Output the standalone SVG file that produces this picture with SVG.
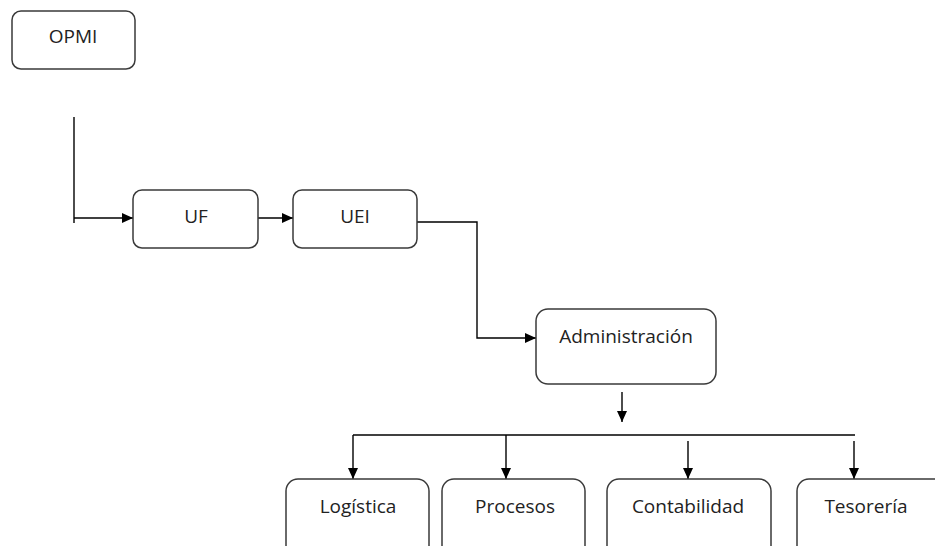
<svg xmlns="http://www.w3.org/2000/svg" width="935" height="546" viewBox="0 0 935 546">
<style>
.box{fill:#fff;stroke:#3a3a3a;stroke-width:1.5}
.lbl{font-family:"Open Sans","Liberation Sans",sans-serif;font-size:19px;fill:#222;text-anchor:middle}
.con{fill:none;stroke:#000;stroke-width:1.4}
</style>
<defs>
<marker id="ah" viewBox="0 0 10 10" refX="10" refY="5" markerWidth="11" markerHeight="10" markerUnits="userSpaceOnUse" orient="auto" preserveAspectRatio="none">
<path d="M0,0 L10,5 L0,10 Z" fill="#000"/>
</marker>
</defs>
<rect width="935" height="546" fill="#fff"/>
<g id="connectors">
<line class="con" x1="74" y1="117" x2="74" y2="223"/>
<line class="con" x1="74" y1="218" x2="133" y2="218" marker-end="url(#ah)"/>
<line class="con" x1="258" y1="218" x2="293" y2="218" marker-end="url(#ah)"/>
<polyline class="con" points="417,222 477,222 477,338 536,338" marker-end="url(#ah)"/>
<line class="con" x1="622" y1="392" x2="622" y2="422" marker-end="url(#ah)"/>
<line class="con" x1="353" y1="435" x2="855" y2="435"/>
<line class="con" x1="353" y1="435" x2="353" y2="479" marker-end="url(#ah)"/>
<line class="con" x1="506" y1="435" x2="506" y2="479" marker-end="url(#ah)"/>
<line class="con" x1="688" y1="441" x2="688" y2="479" marker-end="url(#ah)"/>
<line class="con" x1="854" y1="441" x2="854" y2="479" marker-end="url(#ah)"/>
</g>
<g id="opmi"><rect class="box" x="12" y="11" width="123" height="58" rx="9"/><text class="lbl" x="73" y="43">OPMI</text></g>
<g id="uf"><rect class="box" x="133" y="190" width="125" height="58" rx="9"/><text class="lbl" x="196" y="223">UF</text></g>
<g id="uei"><rect class="box" x="293" y="190" width="124" height="58" rx="9"/><text class="lbl" x="355" y="223">UEI</text></g>
<g id="administracion"><rect class="box" x="536" y="309" width="180" height="75" rx="12"/><text class="lbl" x="626" y="343">Administración</text></g>
<g id="logistica"><rect class="box" x="286" y="479" width="143" height="100" rx="12"/><text class="lbl" x="358" y="513">Logística</text></g>
<g id="procesos"><rect class="box" x="442" y="479" width="143" height="100" rx="12"/><text class="lbl" x="515" y="513">Procesos</text></g>
<g id="contabilidad"><rect class="box" x="607" y="479" width="164" height="100" rx="12"/><text class="lbl" x="688" y="513">Contabilidad</text></g>
<g id="tesoreria"><rect class="box" x="797" y="479" width="150" height="100" rx="12"/><text class="lbl" x="866" y="513">Tesorería</text></g>
</svg>
